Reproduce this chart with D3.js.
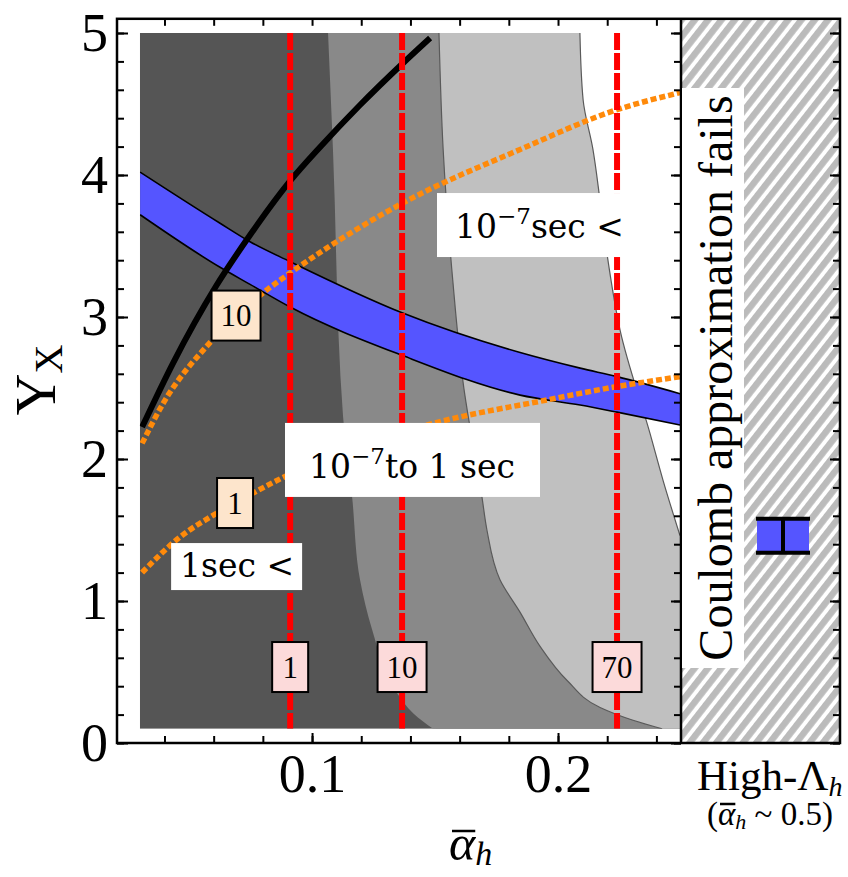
<!DOCTYPE html>
<html>
<head>
<meta charset="utf-8">
<title>Y_X vs alpha_h</title>
<script src="https://d3js.org/d3.v7.min.js"></script>
<style>
  body { margin: 0; background: #fff; }
  svg { display: block; }
  .serif { font-family: "Liberation Serif", "Times New Roman", serif; }
  .note { font-family: "DejaVu Serif", serif; }
  .tick line { stroke: #000; stroke-width: 2; }
</style>
</head>
<body>
<div id="chart"></div>
<script>
// contour edges, as [alpha_h, Y_X] from top to bottom
const darkEdge = [[0.1065,5.0],[0.1085,4.18],[0.1126,2.30],[0.1163,1.73],[0.1195,1.15],[0.1244,0.80],[0.1346,0.35],[0.1411,0.21],[0.1492,0.10]];
const midEdge = [[0.1516,5.0],[0.1533,4.18],[0.1573,3.24],[0.1614,2.54],[0.1691,1.73],[0.1711,1.50],[0.1764,1.15],[0.1846,0.92],[0.1927,0.68],[0.2037,0.44],[0.2171,0.25],[0.2305,0.16],[0.2423,0.10]];
const lightEdge = [[0.2089,5.0],[0.2102,4.53],[0.2142,4.18],[0.2171,3.82],[0.2203,3.40],[0.2252,2.91],[0.2374,2.18],[0.2427,1.85],[0.2496,1.46]];

// blue band
const bandX = [0.0301,0.0626,0.0748,0.0911,0.1366,0.1846,0.209,0.224,0.2496];
const bandUpper = [4.02,3.66,3.53,3.39,3.03,2.75,2.64,2.58,2.46];
const bandLower = [3.72,3.35,3.23,3.07,2.73,2.45,2.38,2.33,2.24];

// black solid curve
const blackX = [0.0309,0.0435,0.0610,0.0748,0.0911,0.1033,0.1195,0.1366,0.1480];
const blackY = [2.225,2.676,3.218,3.577,3.958,4.197,4.493,4.782,4.965];

// orange dotted curves
const orange10X = [0.0309,0.0394,0.0585,0.0801,0.0911,0.1366,0.1846,0.2240,0.2496];
const orange10Y = [2.11,2.39,2.82,3.17,3.31,3.80,4.18,4.46,4.58];
const orange1X = [0.0309,0.0463,0.0614,0.0760,0.0882,0.1427,0.1967,0.2240,0.2496];
const orange1Y = [1.20,1.45,1.62,1.76,1.87,2.22,2.42,2.51,2.58];
const orangeLabels = ["10", "1"];
const orangeLabelX = [0.0691, 0.0687];
const orangeLabelY = [3.01, 1.69];

// red dashed lines
const redX = [0.0911, 0.1366, 0.2240];
const redLabels = ["1", "10", "70"];
const redLabelY = 0.535;

// High-Lambda point
const highLambda = [1.34, 1.58];

const yMajor = [0, 1, 2, 3, 4, 5];
const yMinor = d3.range(0, 26).map(i => i * 0.2);
const xMajor = [0.1, 0.2];
const xMinor = d3.range(2, 13).map(i => i * 0.02);

const W = 848, H = 877;
const x = d3.scaleLinear().domain([0.0207, 0.25]).range([117, 681]);
const y = d3.scaleLinear().domain([0, 5.1]).range([743, 743 - 5.1 * 142]);
const panelR = 840;

const svg = d3.select("#chart").append("svg").attr("width", W).attr("height", H);
const defs = svg.append("defs");
defs.append("clipPath").attr("id", "plotClip").append("rect")
  .attr("x", x(0.03)).attr("y", y(5))
  .attr("width", x(0.25) - x(0.03)).attr("height", y(0.1) - y(5));
const hatch = defs.append("pattern").attr("id", "hatch")
  .attr("patternUnits", "userSpaceOnUse").attr("width", 10.5).attr("height", 10.5)
  .attr("patternTransform", "rotate(38)");
hatch.append("rect").attr("width", 10.5).attr("height", 10.5).attr("fill", "#fff");
hatch.append("rect").attr("width", 6.5).attr("height", 10.5).attr("fill", "#bbbbbb");

// right panel
svg.append("rect").attr("x", x(0.25)).attr("y", y(5.1))
  .attr("width", panelR - x(0.25)).attr("height", y(0) - y(5.1)).attr("fill", "url(#hatch)");

const plot = svg.append("g").attr("clip-path", "url(#plotClip)");
const edge = d3.line().x(d => x(d[0])).y(d => y(d[1])).curve(d3.curveMonotoneY);

plot.append("rect").attr("x", x(0.03)).attr("y", y(5))
  .attr("width", x(0.25) - x(0.03)).attr("height", y(0.1) - y(5)).attr("fill", "#555555");
plot.append("path").attr("fill", "#898989")
  .attr("d", edge(darkEdge) + `L${x(0.26)},${y(0)}L${x(0.26)},${y(5.1)}L${x(darkEdge[0][0])},${y(5.1)}Z`);
plot.append("path").attr("fill", "#c0c0c0")
  .attr("d", edge(midEdge) + `L${x(0.26)},${y(0)}L${x(0.26)},${y(5.1)}L${x(midEdge[0][0])},${y(5.1)}Z`);
const lastL = lightEdge[lightEdge.length - 1];
plot.append("path").attr("fill", "#fff")
  .attr("d", edge(lightEdge) + `L${x(0.26)},${y(lastL[1])}L${x(0.26)},${y(5.1)}L${x(lightEdge[0][0])},${y(5.1)}Z`);
[midEdge, lightEdge].forEach(e => {
  plot.append("path").attr("d", edge(e)).attr("fill", "none").attr("stroke", "#5a5a5a").attr("stroke-width", 1.2);
});

// blue band
const band = bandX.map((v, i) => ({ x: v, hi: bandUpper[i], lo: bandLower[i] }));
plot.append("path").datum(band).attr("fill", "#5555ff")
  .attr("d", d3.area().x(d => x(d.x)).y0(d => y(d.lo)).y1(d => y(d.hi)).curve(d3.curveMonotoneX));
["hi", "lo"].forEach(k => {
  plot.append("path").datum(band).attr("fill", "none").attr("stroke", "#000").attr("stroke-width", 1.6)
    .attr("d", d3.line().x(d => x(d.x)).y(d => y(d[k])).curve(d3.curveMonotoneX));
});

const curve = (xs, ys) => d3.line().x((d, i) => x(xs[i])).y((d, i) => y(ys[i])).curve(d3.curveMonotoneX)(xs);

// black curve
plot.append("path").attr("d", curve(blackX, blackY))
  .attr("fill", "none").attr("stroke", "#000").attr("stroke-width", 6);

// orange dotted
[[orange10X, orange10Y], [orange1X, orange1Y]].forEach(([xs, ys]) => {
  plot.append("path").attr("d", curve(xs, ys)).attr("fill", "none")
    .attr("stroke", "#ff8a0a").attr("stroke-width", 5.5).attr("stroke-dasharray", "6,3");
});

// red dashed
plot.selectAll(".red").data(redX).enter().append("line")
  .attr("x1", d => x(d)).attr("x2", d => x(d)).attr("y1", y(5)).attr("y2", y(0.1))
  .attr("stroke", "#ff0000").attr("stroke-width", 6).attr("stroke-dasharray", "17,3");

function boxLabel(cx, cy, txt, fill) {
  const g = svg.append("g");
  const t = g.append("text").attr("class", "serif").attr("x", cx).attr("y", cy + 10.5)
    .attr("text-anchor", "middle").attr("font-size", 31).text(txt);
  const w = Math.max(36, t.node().getComputedTextLength() + 18);
  g.insert("rect", "text").attr("x", cx - w / 2).attr("y", cy - 25).attr("width", w).attr("height", 50)
    .attr("fill", fill).attr("stroke", "#000").attr("stroke-width", 2);
}
orangeLabels.forEach((s, i) => boxLabel(x(orangeLabelX[i]), y(orangeLabelY[i]), s, "#fde5cc"));
redLabels.forEach((s, i) => boxLabel(x(redX[i]), y(redLabelY), s, "#fcdada"));

// white notes
function note(x0, y0, w, h, tx, ty, parts) {
  svg.append("rect").attr("x", x(x0)).attr("y", y(y0)).attr("width", w).attr("height", h).attr("fill", "#fff");
  const t = svg.append("text").attr("class", "note").attr("x", x(x0) + tx).attr("y", y(y0) + ty).attr("font-size", 33);
  parts.forEach(p => t.append("tspan").attr("font-size", p[1]).attr("dy", p[2]).text(p[0]));
}
note(0.1508, 3.873, 191, 64, 18, 45, [["10", 33, 0], ["\u22127", 23, -14], ["sec <", 33, 14]]);
note(0.0890, 2.254, 255, 74, 24, 55, [["10", 33, 0], ["\u22127", 23, -14], ["to 1 sec", 33, 14]]);
note(0.0427, 1.408, 131, 47, 9, 34, [["1sec <", 33, 0]]);

// axes
function styleAxis(g) { g.select(".domain").remove(); }
svg.append("g").attr("transform", `translate(0,${y(0)})`)
  .call(d3.axisBottom(x).tickValues(xMinor).tickSize(-7).tickFormat("")).call(styleAxis);
svg.append("g").attr("transform", `translate(0,${y(0)})`).attr("class", "serif")
  .call(d3.axisBottom(x).tickValues(xMajor).tickSize(-10).tickPadding(11).tickFormat(d3.format(".1f")))
  .call(styleAxis)
  .call(g => g.selectAll("text").attr("font-size", 54).attr("fill", "#000").attr("font-family", "Liberation Serif"));
svg.append("g").attr("transform", `translate(0,${y(5.1)})`)
  .call(d3.axisTop(x).tickValues(xMinor).tickSize(-7).tickFormat("")).call(styleAxis);
svg.append("g").attr("transform", `translate(${x.range()[0]},0)`)
  .call(d3.axisLeft(y).tickValues(yMinor).tickSize(-7).tickFormat("")).call(styleAxis);
svg.append("g").attr("transform", `translate(${x.range()[0]},0)`)
  .call(d3.axisLeft(y).tickValues(yMajor).tickSize(-11).tickPadding(9).tickFormat(d3.format("d")))
  .call(styleAxis)
  .call(g => g.selectAll("text").attr("font-size", 54).attr("fill", "#000").attr("font-family", "Liberation Serif").attr("dy", "0.33em"));
[x(0.25), panelR].forEach(px => {
  svg.append("g").attr("transform", `translate(${px},0)`)
    .call(d3.axisRight(y).tickValues(yMinor).tickSize(-7).tickFormat("")).call(styleAxis);
  svg.append("g").attr("transform", `translate(${px},0)`)
    .call(d3.axisRight(y).tickValues(yMajor).tickSize(-10).tickFormat("")).call(styleAxis);
});

// frame
svg.append("rect").attr("x", x.range()[0]).attr("y", y(5.1))
  .attr("width", panelR - x.range()[0]).attr("height", y(0) - y(5.1))
  .attr("fill", "none").attr("stroke", "#000").attr("stroke-width", 2.5);
svg.append("line").attr("x1", x(0.25)).attr("x2", x(0.25)).attr("y1", y(5.1)).attr("y2", y(0))
  .attr("stroke", "#000").attr("stroke-width", 2.5);

// Coulomb note
svg.append("rect").attr("x", x(0.25) + 1).attr("y", 88).attr("width", 62).attr("height", 580).attr("fill", "#fff");
svg.append("text").attr("class", "serif").attr("transform", "translate(732,378) rotate(-90)")
  .attr("text-anchor", "middle").attr("font-size", 48).text("Coulomb approximation fails");

// High-Lambda marker
const hx = 783;
svg.append("rect").attr("x", hx - 26).attr("y", y(highLambda[1])).attr("width", 52)
  .attr("height", y(highLambda[0]) - y(highLambda[1])).attr("fill", "#5555ff");
highLambda.forEach(v => svg.append("line").attr("x1", hx - 27).attr("x2", hx + 27)
  .attr("y1", y(v)).attr("y2", y(v)).attr("stroke", "#000").attr("stroke-width", 4));
svg.append("line").attr("x1", hx).attr("x2", hx).attr("y1", y(highLambda[0])).attr("y2", y(highLambda[1]))
  .attr("stroke", "#000").attr("stroke-width", 4);

// axis titles
const hl = svg.append("text").attr("class", "serif").attr("x", 697).attr("y", 790).attr("font-size", 43);
hl.append("tspan").text("High-\u039B");
hl.append("tspan").attr("font-style", "italic").attr("font-size", 28).attr("dy", 6).text("h");
const ha = svg.append("text").attr("class", "serif").attr("x", 707).attr("y", 825).attr("font-size", 33);
ha.append("tspan").text("(");
ha.append("tspan").attr("font-style", "italic").text("\u03B1");
ha.append("tspan").attr("font-style", "italic").attr("font-size", 22).attr("dy", 4).text("h");
ha.append("tspan").attr("dy", -4).text(" ~ 0.5)");
const ab = ha.node().getExtentOfChar(1);
svg.append("line").attr("x1", ab.x + 2).attr("x2", ab.x + ab.width).attr("y1", 825 - 21).attr("y2", 825 - 21)
  .attr("stroke", "#000").attr("stroke-width", 2.5);

const xl = svg.append("text").attr("class", "serif").attr("x", 449).attr("y", 860).attr("font-size", 50);
xl.append("tspan").attr("font-style", "italic").text("\u03B1");
xl.append("tspan").attr("font-style", "italic").attr("font-size", 34).attr("dy", 5).text("h");
const xb = xl.node().getExtentOfChar(0);
svg.append("line").attr("x1", xb.x + 3).attr("x2", xb.x + xb.width).attr("y1", 831).attr("y2", 831)
  .attr("stroke", "#000").attr("stroke-width", 2.5);

const yl = svg.append("text").attr("class", "serif").attr("transform", "translate(55,380) rotate(-90)")
  .attr("text-anchor", "middle").attr("font-size", 58);
yl.append("tspan").text("Y");
yl.append("tspan").attr("font-size", 40).attr("dy", 7).text("X");
</script>
</body>
</html>
